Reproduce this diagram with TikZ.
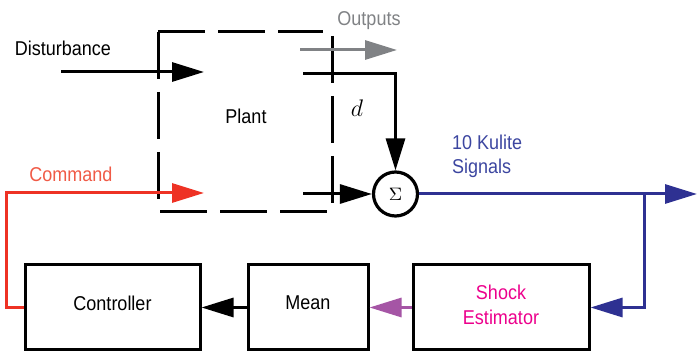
\documentclass[tikz,border=0pt]{standalone}
\usepackage{fontspec}
\setmainfont{Liberation Sans}[FakeStretch=0.9]
\usetikzlibrary{arrows.meta}
\definecolor{cmdred}{RGB}{238,50,36}
\definecolor{cmdtext}{RGB}{240,90,70}
\definecolor{sigblue}{RGB}{46,49,146}
\definecolor{sigtext}{RGB}{60,70,160}
\definecolor{shockpink}{RGB}{236,0,140}
\definecolor{meanpurple}{RGB}{165,85,165}
\definecolor{outgray}{RGB}{128,130,133}

\begin{document}
\begin{tikzpicture}[x=0.5pt,y=-0.5pt,
			tip/.style={-{Triangle[length=16pt,width=9.5pt]}},
			wire/.style={line width=1.5pt},
			blk/.style={draw,line width=1.5pt,minimum height=42.5pt,inner sep=0pt},
			plantedge/.style={line width=1.5pt,dash pattern=on 23.5pt off 6.5pt}]
			\useasboundingbox (0,0) rectangle (698,352);
			\draw[plantedge] (158,32) -- (323,32);
			\draw[plantedge] (332,36) -- (332,204);
			\draw[plantedge] (160,212) -- (328,212);
			\draw[plantedge] (158,32) -- (158,202);
			\node (plant) at (246,116) {Plant};
			\node[draw,circle,line width=1.6pt,minimum size=22pt,inner sep=0pt] (sum) at (395.5,194) {\small$\Sigma$};
			\node[blk,minimum width=87.5pt] (ctrl) at (112.5,307.5) {\raisebox{4.5pt}{Controller}};
			\node[blk,minimum width=60pt] (mean) at (308,307.5) {\raisebox{4.5pt}{Mean}};
			\node[blk,minimum width=88pt,text=shockpink] (shock) at (501,307.5)
				{\raisebox{6.5pt}{\begin{tabular}{@{}c@{}}Shock\\[0.5pt]Estimator\end{tabular}}};
			\node (distlbl) at (63,48) {Disturbance};
			\node[text=cmdtext] (cmdlbl) at (71,174) {Command};
			\node[text=outgray] (outlbl) at (369,21) {Outputs};
			\node (dlbl) at (357,108) {\large$d$};
			\node[text=sigtext,anchor=west,align=left] (siglbl) at (445,156) {10 Kulite\\Signals};
			\coordinate (dist) at (61,72);
			\coordinate (pin1) at (204,72);
			\coordinate (pin2) at (204,193);
			\coordinate (pout0) at (300,50);
			\coordinate (outs) at (397,50);
			\coordinate (pout1) at (303,74);
			\coordinate (pout2) at (303,194);
			\coordinate (br) at (644,194);
			\coordinate (sigout) at (697,194);
			\draw[wire,tip] (dist) -- (pin1);
			\draw[wire,tip,outgray] (pout0) -- (outs);
			\draw[wire,tip] (pout1) -| (sum.north);
			\draw[wire,tip] (pout2) -- (sum.west);
			\draw[wire,tip,cmdred] (ctrl.west) -- ++(-17,0) |- (pin2);
			\draw[wire,tip,sigblue] (sum.east) -- (sigout);
			\draw[wire,tip,sigblue] (br) |- (shock.east);
			\draw[wire,tip,meanpurple] (shock.west) -- (mean.east);
			\draw[wire,tip] (mean.west) -- (ctrl.east);
			\end{tikzpicture}
\end{document}
